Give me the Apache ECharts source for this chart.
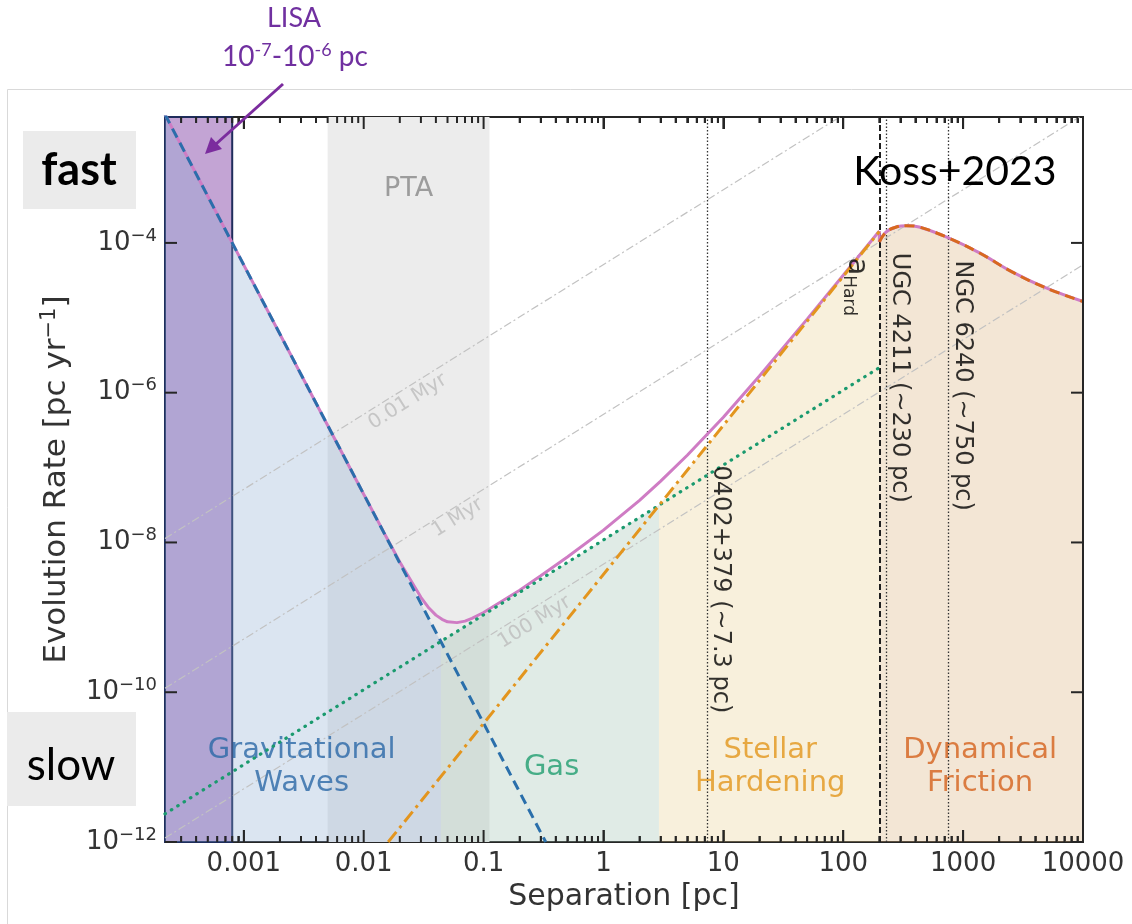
<!DOCTYPE html>
<html>
<head>
<meta charset="utf-8">
<script src="https://cdn.jsdelivr.net/npm/echarts@6/dist/echarts.min.js"></script>
<style>
  html, body { margin: 0; padding: 0; background: #fff; }
  #chart { width: 1132px; height: 924px; }
</style>
</head>
<body>
<div id="chart"></div>
<script>
// ---- Evolution-rate curves: [separation (pc), rate (pc / yr)] ----
const gwRate      = [[2.2e-4, 5.2e-3], [8e-4, 1e-4], [0.33, 1e-12]];
const gasRate     = [[2.2e-4, 2.38e-12], [200, 2.16e-6]];
const stellarRate = [[0.016, 1e-12], [200, 1.42e-4]];
const dfRate      = [[200, 1.03e-4], [228, 1.4e-4], [277, 1.63e-4], [335, 1.7e-4], [430, 1.63e-4],
                     [722, 1.2e-4], [1360, 7.4e-5], [2560, 4.1e-5], [4920, 2.5e-5], [10000, 1.65e-5]];
const totalRate   = [[2.2e-4, 5.2e-3], [8e-4, 1e-4], [0.003, 1.75e-6], [0.01, 4.4e-8], [0.015, 1.29e-8],
                     [0.02, 5.5e-9], [0.03, 1.85e-9], [0.035, 1.33e-9], [0.04, 1.07e-9], [0.045, 9.4e-10],
                     [0.05, 8.7e-10], [0.06, 8.5e-10], [0.07, 8.9e-10], [0.08, 9.7e-10], [0.1, 1.16e-9],
                     [0.2, 2.3e-9], [0.3, 3.6e-9], [0.5, 6.4e-9], [1, 1.46e-8], [2, 3.65e-8], [3, 6.6e-8],
                     [5, 1.46e-7], [10, 4.7e-7], [20, 1.67e-6], [50, 9.6e-6], [100, 3.7e-5], [200, 1.44e-4]];

// ---- Shaded regimes: where each mechanism dominates ----
const gwRegion      = [[2.2e-4, 5.2e-3], [8e-4, 1e-4], [0.044, 4.73e-10]];
const gasRegion     = [[0.044, 4.73e-10], [2.9, 3.13e-8]];
const stellarRegion = [[2.9, 3.13e-8], [200, 1.42e-4]];
const dfRegion      = dfRate;

// ---- Lines of constant evolution time ----
const timeLineNames = ['0.01 Myr', '1 Myr', '100 Myr'];
const timeLine001   = [[2.2e-4, 1.13e-8], [93.5, 4.8e-3]];
const timeLine1     = [[2.2e-4, 1.13e-10], [9350, 4.8e-3]];
const timeLine100   = [[2.2e-4, 1.13e-12], [10000, 5.1e-5]];

// ---- Bands and marked separations (pc) ----
const lisaRange = [2.2e-4, 8e-4];
const ptaRange  = [0.005, 0.112];
const aHard     = 200;
const systemNames = ['0402+379 (\u223c7.3 pc)', 'UGC 4211 (\u223c230 pc)', 'NGC 6240 (\u223c750 pc)'];
const systemSeps  = [7.3, 230, 750];

// ---- Axes ----
const xRange = [2.2e-4, 1e4];
const yRange = [1e-12, 4.8e-3];
const xTickLabels = ['0.001', '0.01', '0.1', '1', '10', '100', '1000', '10000'];
const xTickExponents = [-3, -2, -1, 0, 1, 2, 3, 4];
const yTickExponents = [-12, -10, -8, -6, -4];

const font = 'DejaVu Sans';
const axisColor = '#262626';
const plotHeight = 725;  // grid height in px

// decade and 2..9 sub-decade positions for the x tick marks
const xMajorTicks = xTickExponents.map(e => Math.pow(10, e));
const xMinorTicks = [];
for (let e = -4; e < 4; e++) {
  for (let m = 2; m <= 9; m++) {
    const v = m * Math.pow(10, e);
    if (v > xRange[0] && v < xRange[1]) xMinorTicks.push(v);
  }
}
const yMajorTicks = yTickExponents.map(e => Math.pow(10, e));

// rate factor spanning a given pixel length on the log y axis
const yDecades = Math.log10(yRange[1]) - Math.log10(yRange[0]);
function rateFactor(px) { return Math.pow(10, px * yDecades / plotHeight); }

function exponentOf(v) {
  const l = Math.log10(v);
  const e = Math.round(l);
  return Math.abs(l - e) < 1e-6 ? e : null;
}

function labelSeries(z, items) {
  return {
    type: 'scatter', z: z, silent: true, symbolSize: 1,
    itemStyle: { color: 'rgba(0,0,0,0)' },
    data: items.map(it => ({
      value: it.at,
      label: Object.assign({ show: true, position: 'inside', fontFamily: font }, it.label)
    }))
  };
}

// short inward y tick marks drawn as thin rectangles anchored on the frame
function tickSeries(points, size, offset) {
  return {
    type: 'scatter', z: 9, silent: true, clip: false, data: points,
    symbol: 'rect', symbolSize: size, symbolOffset: offset,
    itemStyle: { color: axisColor, opacity: 1 }
  };
}

// x tick marks: one short vertical line series per tick, bottom and top edges
function xTickLines() {
  const out = [];
  const add = (v, px) => {
    const f = rateFactor(px);
    const base = { type: 'line', z: 9, silent: true, clip: false, symbol: 'none',
                   lineStyle: { color: axisColor, width: 2, type: 'solid' } };
    out.push(Object.assign({ data: [[v, yRange[0]], [v, yRange[0] * f]] }, base));
    out.push(Object.assign({ data: [[v, yRange[1]], [v, yRange[1] / f]] }, base));
  };
  xMajorTicks.forEach(v => add(v, 12));
  xMinorTicks.forEach(v => add(v, 6));
  return out;
}

function curve(data, z, style, extra) {
  return Object.assign({
    type: 'line', data: data, z: z, symbol: 'none', silent: true, clip: true,
    lineStyle: style
  }, extra || {});
}

function region(data, z, color, extra) {
  return Object.assign({
    type: 'line', data: data, z: z, symbol: 'none', silent: true, clip: true,
    lineStyle: { width: 0, opacity: 0 },
    areaStyle: { color: color, origin: 'start', opacity: 1 }
  }, extra || {});
}

// shared settings for the bottom and mirrored top separation axes
function separationAxis(position, withLabels) {
  return {
    type: 'log', min: xRange[0], max: xRange[1], splitNumber: 8,
    position: position,
    axisLine: { show: true, lineStyle: { color: axisColor, width: 2 } },
    axisTick: { show: true, inside: true, length: 12, lineStyle: { color: axisColor, width: 2 } },
    minorTick: { show: true, splitNumber: 9, length: 6, lineStyle: { color: axisColor, width: 2 } },
    splitLine: { show: false },
    axisLabel: {
      show: withLabels, margin: 9, fontSize: 26, color: '#333', fontFamily: font,
      formatter: v => {
        const e = exponentOf(v);
        const i = xTickExponents.indexOf(e);
        return i >= 0 ? xTickLabels[i] : '';
      }
    }
  };
}

const chart = echarts.init(document.getElementById('chart'));

const bottomAxis = Object.assign(separationAxis('bottom', true), {
  name: 'Separation [pc]', nameLocation: 'middle', nameGap: 37,
  nameTextStyle: { fontSize: 30, color: '#333', fontFamily: font }
});

const option = {
  animation: false,
  backgroundColor: '#ffffff',
  grid: { left: 165, right: 49, top: 117, bottom: 82, show: false },
  xAxis: [bottomAxis, separationAxis('top', false)],
  yAxis: {
    type: 'log', min: yRange[0], max: yRange[1],
    axisLine: { show: true, lineStyle: { color: axisColor, width: 2 } },
    axisTick: { show: false },
    splitLine: { show: false },
    axisLabel: {
      margin: 8, color: '#333', fontFamily: font,
      formatter: v => {
        const e = exponentOf(v);
        if (e === null || yTickExponents.indexOf(e) < 0) return '';
        return '{b|10}{s|\u2212' + (-e) + '}';
      },
      rich: {
        b: { fontSize: 26, lineHeight: 32, color: '#333', fontFamily: font },
        s: { fontSize: 18, lineHeight: 18, verticalAlign: 'top', color: '#333', fontFamily: font }
      }
    },
    name: 'Evolution Rate [pc yr{s|\u22121}]', nameLocation: 'middle', nameGap: 86,
    nameTextStyle: {
      fontSize: 31, lineHeight: 36, color: '#333', fontFamily: font,
      rich: { s: { fontSize: 21, verticalAlign: 'top', lineHeight: 21, color: '#333', fontFamily: font } }
    }
  },
  graphic: [
    { type: 'rect', z: 0, silent: true, shape: { x: 7.5, y: 89.5, width: 1200, height: 900 },
      style: { fill: 'none', stroke: '#d9d9d9', lineWidth: 1 } },
    // right side of the frame
    { type: 'line', z: 50, silent: true, shape: { x1: 1083, y1: 116, x2: 1083, y2: 843 },
      style: { stroke: axisColor, lineWidth: 2 } },
    { type: 'rect', z: 60, shape: { x: 23, y: 131, width: 113, height: 78 }, style: { fill: '#ebebeb' } },
    { type: 'text', z: 61, x: 79, y: 170,
      style: { text: 'fast', font: 'bold 45px Lato', fill: '#000', align: 'center', verticalAlign: 'middle' } },
    { type: 'rect', z: 60, shape: { x: 7, y: 712, width: 129, height: 94 }, style: { fill: '#ebebeb' } },
    { type: 'text', z: 61, x: 71, y: 766,
      style: { text: 'slow', font: '44px Lato', fill: '#000', align: 'center', verticalAlign: 'middle' } },
    { type: 'text', z: 61, x: 294, y: 18,
      style: { text: 'LISA', font: '27px Lato', fill: '#7030a0', align: 'center', verticalAlign: 'middle' } },
    { type: 'text', z: 61, x: 295, y: 57,
      style: {
        text: '{n|10}{s|-7}{n|-10}{s|-6}{n| pc}', align: 'center', verticalAlign: 'middle',
        rich: {
          n: { fontSize: 28, fontFamily: 'Lato', fill: '#7030a0', lineHeight: 32 },
          s: { fontSize: 18, fontFamily: 'Lato', fill: '#7030a0', verticalAlign: 'top', lineHeight: 18 }
        }
      } },
    { type: 'line', z: 61, shape: { x1: 283, y1: 84, x2: 216, y2: 144 },
      style: { stroke: '#7b2c9e', lineWidth: 3 } },
    { type: 'polygon', z: 61, shape: { points: [[205, 154], [222, 149], [211, 137]] },
      style: { fill: '#7b2c9e' } },
    { type: 'text', z: 61, x: 955, y: 172,
      style: { text: 'Koss+2023', font: '41px Lato', fill: '#000', align: 'center', verticalAlign: 'middle' } }
  ],
  series: [
    // PTA sensitivity band
    { type: 'line', data: [], z: 1, silent: true,
      markArea: {
        silent: true, itemStyle: { color: '#ececec' },
        label: { show: true, position: 'insideTop', distance: 58, color: '#9c9c9c', fontSize: 27, fontFamily: font },
        data: [[{ name: 'PTA', xAxis: ptaRange[0] }, { xAxis: ptaRange[1] }]]
      } },

    // shaded regimes
    region(gwRegion, 2, 'rgba(135,168,208,0.3)'),
    region(gasRegion, 2, 'rgba(152,188,172,0.3)'),
    region(stellarRegion, 2, 'rgba(232,205,138,0.3)'),
    region(dfRegion, 2, 'rgba(215,172,115,0.3)', { smooth: 0.4 }),

    // regime names
    labelSeries(3, [
      { at: [3.04e-3, 1e-11], label: { formatter: 'Gravitational\nWaves', color: '#2a68a6', fontSize: 29, lineHeight: 33 } },
      { at: [0.369, 1e-11], label: { formatter: 'Gas', color: '#1f9d6f', fontSize: 29, lineHeight: 33 } },
      { at: [24.6, 1e-11], label: { formatter: 'Stellar\nHardening', color: '#e2961c', fontSize: 29, lineHeight: 33 } },
      { at: [1386, 1e-11], label: { formatter: 'Dynamical\nFriction', color: '#d4621c', fontSize: 29, lineHeight: 33 } }
    ]),

    // constant-time lines
    curve(timeLine001, 3, { color: '#c2c2c2', width: 1.2, type: [8, 3, 2, 3] }),
    curve(timeLine1, 3, { color: '#c2c2c2', width: 1.2, type: [8, 3, 2, 3] }),
    curve(timeLine100, 3, { color: '#c2c2c2', width: 1.2, type: [8, 3, 2, 3] }),
    labelSeries(3, [
      { at: [0.0233, 7.6e-7], label: { formatter: timeLineNames[0], rotate: 32, color: '#bdbdbd', fontSize: 20 } },
      { at: [0.0607, 2.15e-8], label: { formatter: timeLineNames[1], rotate: 32, color: '#bdbdbd', fontSize: 20 } },
      { at: [0.266, 8.6e-10], label: { formatter: timeLineNames[2], rotate: 32, color: '#bdbdbd', fontSize: 20 } }
    ]),

    // marked separations
    { type: 'line', data: [], z: 4, silent: true,
      markLine: {
        silent: true, symbol: ['none', 'none'], label: { show: false }, animation: false,
        data: [
          { xAxis: systemSeps[0], lineStyle: { color: '#333', width: 1.3, type: [1.5, 2] } },
          { xAxis: aHard, lineStyle: { color: '#1e1e1e', width: 2, type: [6, 3] } },
          { xAxis: systemSeps[1], lineStyle: { color: '#333', width: 1.3, type: [1.5, 2] } },
          { xAxis: systemSeps[2], lineStyle: { color: '#333', width: 1.3, type: [1.5, 2] } }
        ]
      } },

    // total evolution rate
    curve(totalRate, 5, { color: '#cf7cc4', width: 3 }),
    curve([totalRate[totalRate.length - 1], dfRate[0]], 5, { color: '#cf7cc4', width: 3 }),
    curve(dfRate, 5, { color: '#cf7cc4', width: 3 }, { smooth: 0.4 }),

    // individual mechanisms
    curve(gwRate, 6, { color: '#2a6fab', width: 3, type: [10, 6] }),
    curve(gasRate, 6, { color: '#1a9a6e', width: 3.2, type: [0.5, 7], cap: 'round' }),
    curve(stellarRate, 6, { color: '#e3951e', width: 3, type: [13, 5, 3, 5] }),
    curve(dfRate, 6, { color: '#d8691f', width: 3, type: [10, 6] }, { smooth: 0.4 }),

    // LISA band
    { type: 'line', data: [], z: 7, silent: true,
      markArea: {
        silent: true,
        itemStyle: { color: 'rgba(146,90,177,0.55)', borderColor: '#1f2d5c', borderWidth: 2 },
        data: [[{ xAxis: lisaRange[0] }, { xAxis: lisaRange[1] }]]
      } },

    // separation labels
    labelSeries(8, [
      { at: [9.44, 2.36e-9], label: { formatter: systemNames[0], rotate: -90, color: '#000', fontSize: 24 } },
      { at: [293, 1.58e-6], label: { formatter: systemNames[1], rotate: -90, color: '#000', fontSize: 24 } },
      { at: [981, 1.24e-6], label: { formatter: systemNames[2], rotate: -90, color: '#000', fontSize: 24 } },
      { at: [128, 2.6e-5], label: {
          formatter: '{a|a}{h|Hard}', rotate: -90,
          rich: {
            a: { fontSize: 29, lineHeight: 32, color: '#000', fontFamily: font },
            h: { fontSize: 17, lineHeight: 17, verticalAlign: 'bottom', color: '#000', fontFamily: font }
          } } }
    ]),

    // y ticks, inward on left and right
    tickSeries(yMajorTicks.map(v => [xRange[0], v]), [12, 2], [6, 0]),
    tickSeries(yMajorTicks.map(v => [xRange[1], v]), [12, 2], [-6, 0])
  ].concat(xTickLines())
};

chart.setOption(option);
</script>
</body>
</html>
